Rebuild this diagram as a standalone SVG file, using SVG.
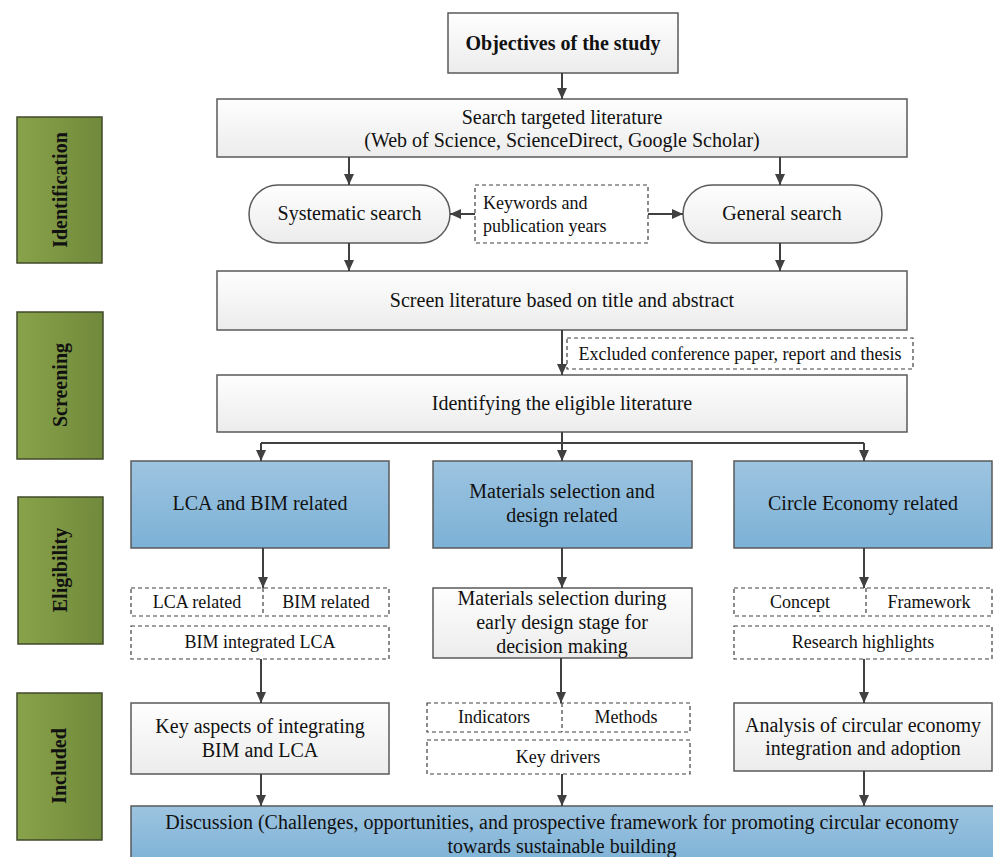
<svg xmlns="http://www.w3.org/2000/svg" width="993" height="857" viewBox="0 0 993 857">
<defs>
<linearGradient id="gW" x1="0" y1="0" x2="0" y2="1"><stop offset="0" stop-color="#fefefe"/><stop offset="1" stop-color="#ececec"/></linearGradient>
<linearGradient id="gB" x1="0" y1="0" x2="0" y2="1"><stop offset="0" stop-color="#9dc4e0"/><stop offset="1" stop-color="#7cb1d6"/></linearGradient>
<linearGradient id="gG" x1="0" y1="0" x2="1" y2="0"><stop offset="0" stop-color="#88a34a"/><stop offset="1" stop-color="#71893b"/></linearGradient>
<marker id="ah" markerWidth="12" markerHeight="12" viewBox="0 0 12 12" refX="11" refY="6" orient="auto" markerUnits="userSpaceOnUse"><path d="M0,1 L11,6 L0,11 Z" fill="#404040"/></marker>
<style>
.box{fill:url(#gW);stroke:#5a5a5a;stroke-width:1.5}
.blue{fill:url(#gB);stroke:#5a5a5a;stroke-width:1.5}
.dash{fill:#ffffff;stroke:#404040;stroke-width:1.2;stroke-dasharray:4 3}
.div{stroke:#404040;stroke-width:1.2;stroke-dasharray:4 3}
.lab{fill:url(#gG);stroke:#404a2c;stroke-width:1.5}
.t{font-family:"Liberation Serif","Times New Roman",serif;font-size:20px;fill:#111;text-anchor:middle}
.s{font-family:"Liberation Serif","Times New Roman",serif;font-size:18px;fill:#111;text-anchor:middle}
.sl{font-family:"Liberation Serif","Times New Roman",serif;font-size:18px;fill:#111;text-anchor:start}
.b{font-family:"Liberation Serif","Times New Roman",serif;font-size:20px;font-weight:bold;fill:#111;text-anchor:middle}
.c{fill:none;stroke:#404040;stroke-width:2}
</style>
</defs>
<g id="label-identification"><rect class="lab" x="17" y="117" width="85" height="146"/><text class="b" transform="translate(60,190) rotate(-90)" y="7">Identification</text></g>
<g id="label-screening"><rect class="lab" x="17" y="312" width="86" height="147"/><text class="b" transform="translate(60,385) rotate(-90)" y="7">Screening</text></g>
<g id="label-eligibility"><rect class="lab" x="18" y="497" width="85" height="147"/><text class="b" transform="translate(60,570) rotate(-90)" y="7">Eligibility</text></g>
<g id="label-included"><rect class="lab" x="17" y="693" width="85" height="147"/><text class="b" transform="translate(59,766) rotate(-90)" y="7">Included</text></g>

<g id="objectives"><rect class="box" x="448" y="13" width="230" height="60"/><text class="b" x="563" y="50">Objectives of the study</text></g>
<g id="search"><rect class="box" x="217" y="99" width="690" height="58"/><text class="t" x="562" y="124">Search targeted literature</text><text class="t" x="562" y="147">(Web of Science, ScienceDirect, Google Scholar)</text></g>
<g id="systematic"><rect class="box" x="249" y="185" width="201" height="58" rx="29" ry="29"/><text class="t" x="349.5" y="220">Systematic search</text></g>
<g id="keywords"><rect class="dash" x="475" y="185" width="173" height="58"/><text class="sl" x="483" y="209">Keywords and</text><text class="sl" x="483" y="232">publication years</text></g>
<g id="general"><rect class="box" x="683" y="185" width="199" height="58" rx="29" ry="29"/><text class="t" x="782" y="220">General search</text></g>
<g id="screen"><rect class="box" x="217" y="271" width="690" height="59"/><text class="t" x="562" y="307">Screen literature based on title and abstract</text></g>
<g id="excluded"><rect class="dash" x="567" y="338" width="346" height="31"/><text class="s" x="740" y="360">Excluded conference paper, report and thesis</text></g>
<g id="identifying"><rect class="box" x="217" y="375" width="690" height="57"/><text class="t" x="562" y="410">Identifying the eligible literature</text></g>

<g id="lca-bim"><rect class="blue" x="131" y="461" width="258" height="87"/><text class="t" x="260" y="510">LCA and BIM related</text></g>
<g id="materials"><rect class="blue" x="433" y="461" width="259" height="87"/><text class="t" x="562" y="498">Materials selection and</text><text class="t" x="562" y="522">design related</text></g>
<g id="circle"><rect class="blue" x="734" y="461" width="258" height="87"/><text class="t" x="863" y="510">Circle Economy related</text></g>

<g id="lca-pair"><rect class="dash" x="131" y="588" width="258" height="28"/><line class="div" x1="263" y1="588" x2="263" y2="616"/><text class="s" x="197" y="608">LCA related</text><text class="s" x="326" y="608">BIM related</text></g>
<g id="bim-lca"><rect class="dash" x="131" y="626" width="258" height="33"/><text class="s" x="260" y="648">BIM integrated LCA</text></g>
<g id="materials-early"><rect class="box" x="433" y="588" width="259" height="70"/><text class="t" x="562" y="605">Materials selection during</text><text class="t" x="562" y="629">early design stage for</text><text class="t" x="562" y="653">decision making</text></g>
<g id="ce-pair"><rect class="dash" x="734" y="588" width="258" height="28"/><line class="div" x1="866" y1="588" x2="866" y2="616"/><text class="s" x="800" y="608">Concept</text><text class="s" x="929" y="608">Framework</text></g>
<g id="research"><rect class="dash" x="734" y="626" width="258" height="33"/><text class="s" x="863" y="648">Research highlights</text></g>

<g id="key-aspects"><rect class="box" x="131" y="703" width="258" height="71"/><text class="t" x="260" y="733">Key aspects of integrating</text><text class="t" x="260" y="757">BIM and LCA</text></g>
<g id="ind-pair"><rect class="dash" x="427" y="703" width="263" height="29"/><line class="div" x1="562" y1="703" x2="562" y2="732"/><text class="s" x="494" y="723">Indicators</text><text class="s" x="626" y="723">Methods</text></g>
<g id="key-drivers"><rect class="dash" x="427" y="740" width="263" height="34"/><text class="s" x="558" y="763">Key drivers</text></g>
<g id="analysis"><rect class="box" x="734" y="703" width="258" height="68"/><text class="t" x="863" y="732">Analysis of circular economy</text><text class="t" x="863" y="755">integration and adoption</text></g>

<g id="discussion"><rect class="blue" x="131" y="806" width="870" height="60"/><text class="t" x="562" y="829">Discussion (Challenges, opportunities, and prospective framework for promoting circular economy</text><text class="t" x="562" y="853">towards sustainable building</text></g>

<g id="connectors">
<line class="c" x1="562" y1="73" x2="562" y2="99" marker-end="url(#ah)"/>
<line class="c" x1="349" y1="157" x2="349" y2="185" marker-end="url(#ah)"/>
<line class="c" x1="780" y1="157" x2="780" y2="185" marker-end="url(#ah)"/>
<line class="c" x1="475" y1="214" x2="450" y2="214" marker-end="url(#ah)"/>
<line class="c" x1="648" y1="214" x2="683" y2="214" marker-end="url(#ah)"/>
<line class="c" x1="349" y1="243" x2="349" y2="271" marker-end="url(#ah)"/>
<line class="c" x1="780" y1="243" x2="780" y2="271" marker-end="url(#ah)"/>
<line class="c" x1="562" y1="330" x2="562" y2="375" marker-end="url(#ah)"/>
<line class="c" x1="562" y1="432" x2="562" y2="443"/>
<line class="c" x1="261" y1="443" x2="864" y2="443"/>
<line class="c" x1="261" y1="443" x2="261" y2="461" marker-end="url(#ah)"/>
<line class="c" x1="562" y1="443" x2="562" y2="461" marker-end="url(#ah)"/>
<line class="c" x1="864" y1="443" x2="864" y2="461" marker-end="url(#ah)"/>
<line class="c" x1="263" y1="548" x2="263" y2="588" marker-end="url(#ah)"/>
<line class="c" x1="562" y1="548" x2="562" y2="588" marker-end="url(#ah)"/>
<line class="c" x1="864" y1="548" x2="864" y2="588" marker-end="url(#ah)"/>
<line class="c" x1="261" y1="659" x2="261" y2="703" marker-end="url(#ah)"/>
<line class="c" x1="561" y1="658" x2="561" y2="703" marker-end="url(#ah)"/>
<line class="c" x1="864" y1="659" x2="864" y2="703" marker-end="url(#ah)"/>
<line class="c" x1="261" y1="774" x2="261" y2="806" marker-end="url(#ah)"/>
<line class="c" x1="562" y1="774" x2="562" y2="806" marker-end="url(#ah)"/>
<line class="c" x1="864" y1="771" x2="864" y2="806" marker-end="url(#ah)"/>
</g>
</svg>
